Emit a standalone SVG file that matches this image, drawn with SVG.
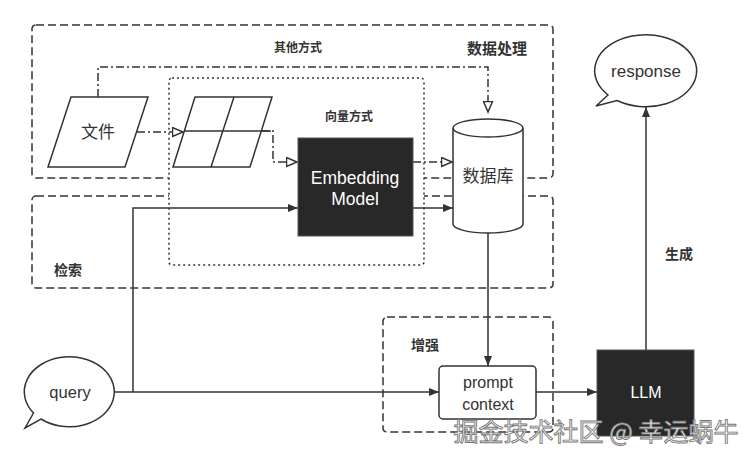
<svg xmlns="http://www.w3.org/2000/svg" width="754" height="459" viewBox="0 0 754 459">
<style>
.box{fill:none;stroke:#333;stroke-width:1.5;stroke-dasharray:8 4}
.dot{fill:#fff;stroke:#333;stroke-width:1.5;stroke-dasharray:2 3}
.ln{fill:none;stroke:#333;stroke-width:1.5}
.dd{fill:none;stroke:#333;stroke-width:1.5;stroke-dasharray:8 3 2 3}
.shape{fill:#fff;stroke:#333;stroke-width:1.5}
.dark{fill:#282828;stroke:#555;stroke-width:1}
.lbl{font-family:"Noto Sans CJK SC","Liberation Sans",sans-serif;font-weight:bold;fill:#333;text-anchor:middle}
.t{font-family:"Liberation Sans","Noto Sans CJK SC",sans-serif;fill:#333;text-anchor:middle}
.w{font-family:"Liberation Sans","Noto Sans CJK SC",sans-serif;fill:#fff;text-anchor:middle}
</style>
<defs>
<marker id="fa" markerWidth="10" markerHeight="8" refX="10" refY="4" orient="auto" markerUnits="userSpaceOnUse"><path d="M0,0 L10,4 L0,8 Z" fill="#333" stroke="none"/></marker>
<marker id="oa" markerWidth="13" markerHeight="11" refX="11.5" refY="5.5" orient="auto" markerUnits="userSpaceOnUse"><path d="M1,1 L11.5,5.5 L1,10 Z" fill="#fff" stroke="#333" stroke-width="1.5" stroke-dasharray="none"/></marker>
</defs>
<rect width="754" height="459" fill="#fff"/>
<g id="group-data">
<rect class="box" x="32" y="25" width="521" height="153" rx="4"/>
<text class="lbl" x="298" y="52" font-size="12">其他方式</text>
<text class="lbl" x="497" y="54" font-size="15">数据处理</text>
</g>
<g id="group-retrieval">
<rect class="box" x="32" y="196" width="521" height="92" rx="4"/>
<text class="lbl" x="68" y="275" font-size="14">检索</text>
</g>
<g id="group-vector">
<rect class="dot" x="169" y="78" width="255" height="187" rx="3"/>
<text class="lbl" x="349" y="121" font-size="12">向量方式</text>
</g>
<g id="group-augment">
<rect class="box" x="383" y="317" width="170" height="115" rx="4"/>
<text class="lbl" x="425" y="350" font-size="14">增强</text>
</g>
<g id="connectors">
<path class="dd" d="M98,97 V67 H488 V112" marker-end="url(#oa)"/>
<path class="dd" d="M137,132 H183" marker-end="url(#oa)"/>
<path class="dd" d="M261,131 H273 V162 H297" marker-end="url(#oa)"/>
<path class="dd" d="M413,162 H452" marker-end="url(#oa)"/>
<path class="ln" d="M115,392 H439" marker-end="url(#fa)"/>
<path class="ln" d="M133,392 V208 H298" marker-end="url(#fa)"/>
<path class="ln" d="M413,208 H453" marker-end="url(#fa)"/>
<path class="ln" d="M488,233 V366" marker-end="url(#fa)"/>
<path class="ln" d="M536,392 H597" marker-end="url(#fa)"/>
<path class="ln" d="M646,350 V107" marker-end="url(#fa)"/>
<text class="lbl" x="679" y="259" font-size="14">生成</text>
</g>
<g id="file">
<path class="shape" d="M71,97 H148 L125,167 H48 Z"/>
<text class="t" x="98" y="138" font-size="17">文件</text>
</g>
<g id="chunks">
<path class="shape" d="M195,97 H272 L250,167 H173 Z"/>
<path class="ln" d="M184,131 H271 M234,97 L211,167"/>
</g>
<g id="embedding">
<rect class="dark" x="298" y="138" width="115" height="98"/>
<text class="w" x="355" y="184" font-size="17.5">Embedding</text>
<text class="w" x="355" y="205" font-size="17.5">Model</text>
</g>
<g id="database">
<path class="shape" d="M453,128 A35,9 0 0,1 523,128 V224 A35,9 0 0,1 453,224 Z"/>
<path class="ln" d="M453,128 A35,9 0 0,0 523,128"/>
<text class="t" x="488" y="182" font-size="17">数据库</text>
</g>
<g id="query">
<path class="shape" d="M33.5,413 L25,428 L41,419 A45,35 0 1,0 33.5,413 Z"/>
<text class="t" x="70" y="398" font-size="16.5">query</text>
</g>
<g id="prompt">
<rect class="shape" x="439" y="366" width="97" height="53" rx="4"/>
<text class="t" x="488" y="388" font-size="16">prompt</text>
<text class="t" x="488" y="410" font-size="16">context</text>
</g>
<g id="llm">
<rect class="dark" x="597" y="350" width="97" height="86"/>
<text class="w" x="646" y="398" font-size="16">LLM</text>
</g>
<g id="response">
<path class="shape" d="M608,95 L596,106 L617,100.5 A51,36 0 1,0 608,95 Z"/>
<text class="t" x="646" y="77" font-size="17">response</text>
</g>
<g id="watermark">
<text x="596" y="441" font-size="25" font-family="'Noto Sans CJK SC','Liberation Sans',sans-serif" text-anchor="middle" fill="#fff" stroke="#777" stroke-width="0.9">掘金技术社区 @ 幸运蜗牛</text>
</g>
</svg>
